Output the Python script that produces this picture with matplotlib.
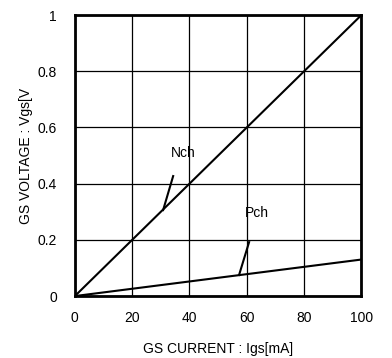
import numpy as np
import matplotlib
matplotlib.use("Agg")
import matplotlib.pyplot as plt

plt.rcParams['font.family'] = ['Liberation Sans', 'DejaVu Sans']

# data
current = [0, 100]
nch_voltage = [0, 1.0]
pch_voltage = [0, 0.13]
x_ticks = [0, 20, 40, 60, 80, 100]
y_ticks = [0, 0.2, 0.4, 0.6, 0.8, 1]
y_tick_labels = ["0", "0.2", "0.4", "0.6", "0.8", "1"]

fig = plt.figure(figsize=(3.92, 3.58), dpi=100)
ax = fig.add_axes([0.191, 0.173, 0.731, 0.785])

ax.plot(current, nch_voltage, color="black", lw=1.5)
ax.plot(current, pch_voltage, color="black", lw=1.5)

# labels with leader lines
ax.text(37.8, 0.51, "Nch", ha="center", va="center", fontsize=10)
ax.plot([34.3, 30.8], [0.427, 0.306], color="black", lw=1.5)
ax.text(63.6, 0.295, "Pch", ha="center", va="center", fontsize=10)
ax.plot([60.8, 57.3], [0.192, 0.075], color="black", lw=1.5)

ax.set_xlim(0, 100)
ax.set_ylim(0, 1)
ax.set_xticks(x_ticks)
ax.set_yticks(y_ticks)
ax.set_yticklabels(y_tick_labels)
ax.tick_params(length=0, labelsize=10)
ax.tick_params(axis="x", pad=11)
ax.tick_params(axis="y", pad=13)
ax.grid(True, color="black", lw=0.9)
for s in ax.spines.values():
    s.set_linewidth(2)

ax.set_xlabel("GS CURRENT : Igs[mA]", fontsize=10, labelpad=12)
ax.set_ylabel("GS VOLTAGE : Vgs[V", fontsize=10, labelpad=3)

fig.savefig("out.png", dpi=100)
